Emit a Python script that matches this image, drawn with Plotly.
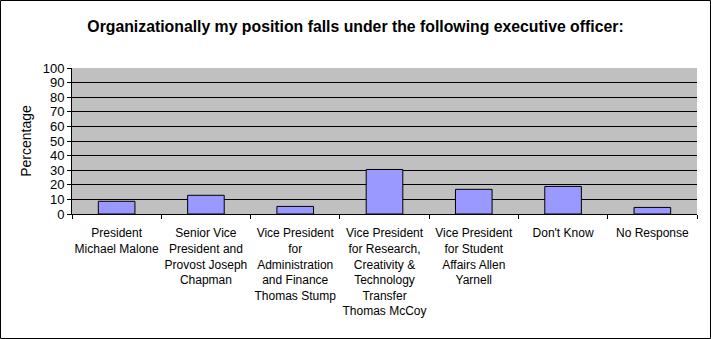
import plotly.graph_objects as go

categories = [
    "President<br>Michael Malone",
    "Senior Vice<br>President and<br>Provost Joseph<br>Chapman",
    "Vice President<br>for<br>Administration<br>and Finance<br>Thomas Stump",
    "Vice President<br>for Research,<br>Creativity &<br>Technology<br>Transfer<br>Thomas McCoy",
    "Vice President<br>for Student<br>Affairs Allen<br>Yarnell",
    "Don't Know",
    "No Response",
]
percentages = [8.7, 12.8, 5.2, 30.5, 16.9, 18.9, 4.5]
y_ticks = list(range(0, 101, 10))

W, H = 711, 339
ML, MR, MT, MB = 72, 14, 68, 125
pw, ph = W - ML - MR, H - MT - MB

fig = go.Figure(
    go.Bar(
        x=categories,
        y=percentages,
        marker=dict(color="#9999FF", line=dict(color="black", width=1)),
        width=0.41,
    )
)

fig.update_layout(
    width=W,
    height=H,
    margin=dict(l=ML, r=MR, t=MT, b=MB),
    paper_bgcolor="white",
    plot_bgcolor="#C0C0C0",
    font=dict(family="Arial, Liberation Sans, sans-serif", size=12, color="black"),
    title=dict(
        text="<b>Organizationally my position falls under the following executive officer:</b>",
        x=0.5,
        xanchor="center",
        y=1 - 26 / H,
        yanchor="middle",
        font=dict(size=15.8),
    ),
    showlegend=False,
)

fig.update_yaxes(
    range=[0, 100],
    tickvals=y_ticks,
    showgrid=True,
    gridcolor="black",
    gridwidth=1,
    showline=True,
    linecolor="black",
    linewidth=1,
    ticks="outside",
    ticklen=4,
    tickcolor="black",
    zeroline=False,
    tickfont=dict(size=13),
    title=dict(text="Percentage", standoff=7),
)

fig.update_xaxes(
    showline=True,
    linecolor="black",
    linewidth=1,
    ticks="outside",
    ticklen=4,
    tickcolor="black",
    tickson="boundaries",
    showgrid=False,
    tickangle=0,
    ticklabelstandoff=8,
)

# frame around the whole figure
fig.add_shape(
    type="rect",
    xref="paper",
    yref="paper",
    x0=-(ML - 0.5) / pw,
    x1=1 + (MR - 0.5) / pw,
    y0=-(MB - 0.5) / ph,
    y1=1 + (MT - 0.5) / ph,
    line=dict(color="black", width=1),
    layer="below",
)

fig.write_html("out.html")
